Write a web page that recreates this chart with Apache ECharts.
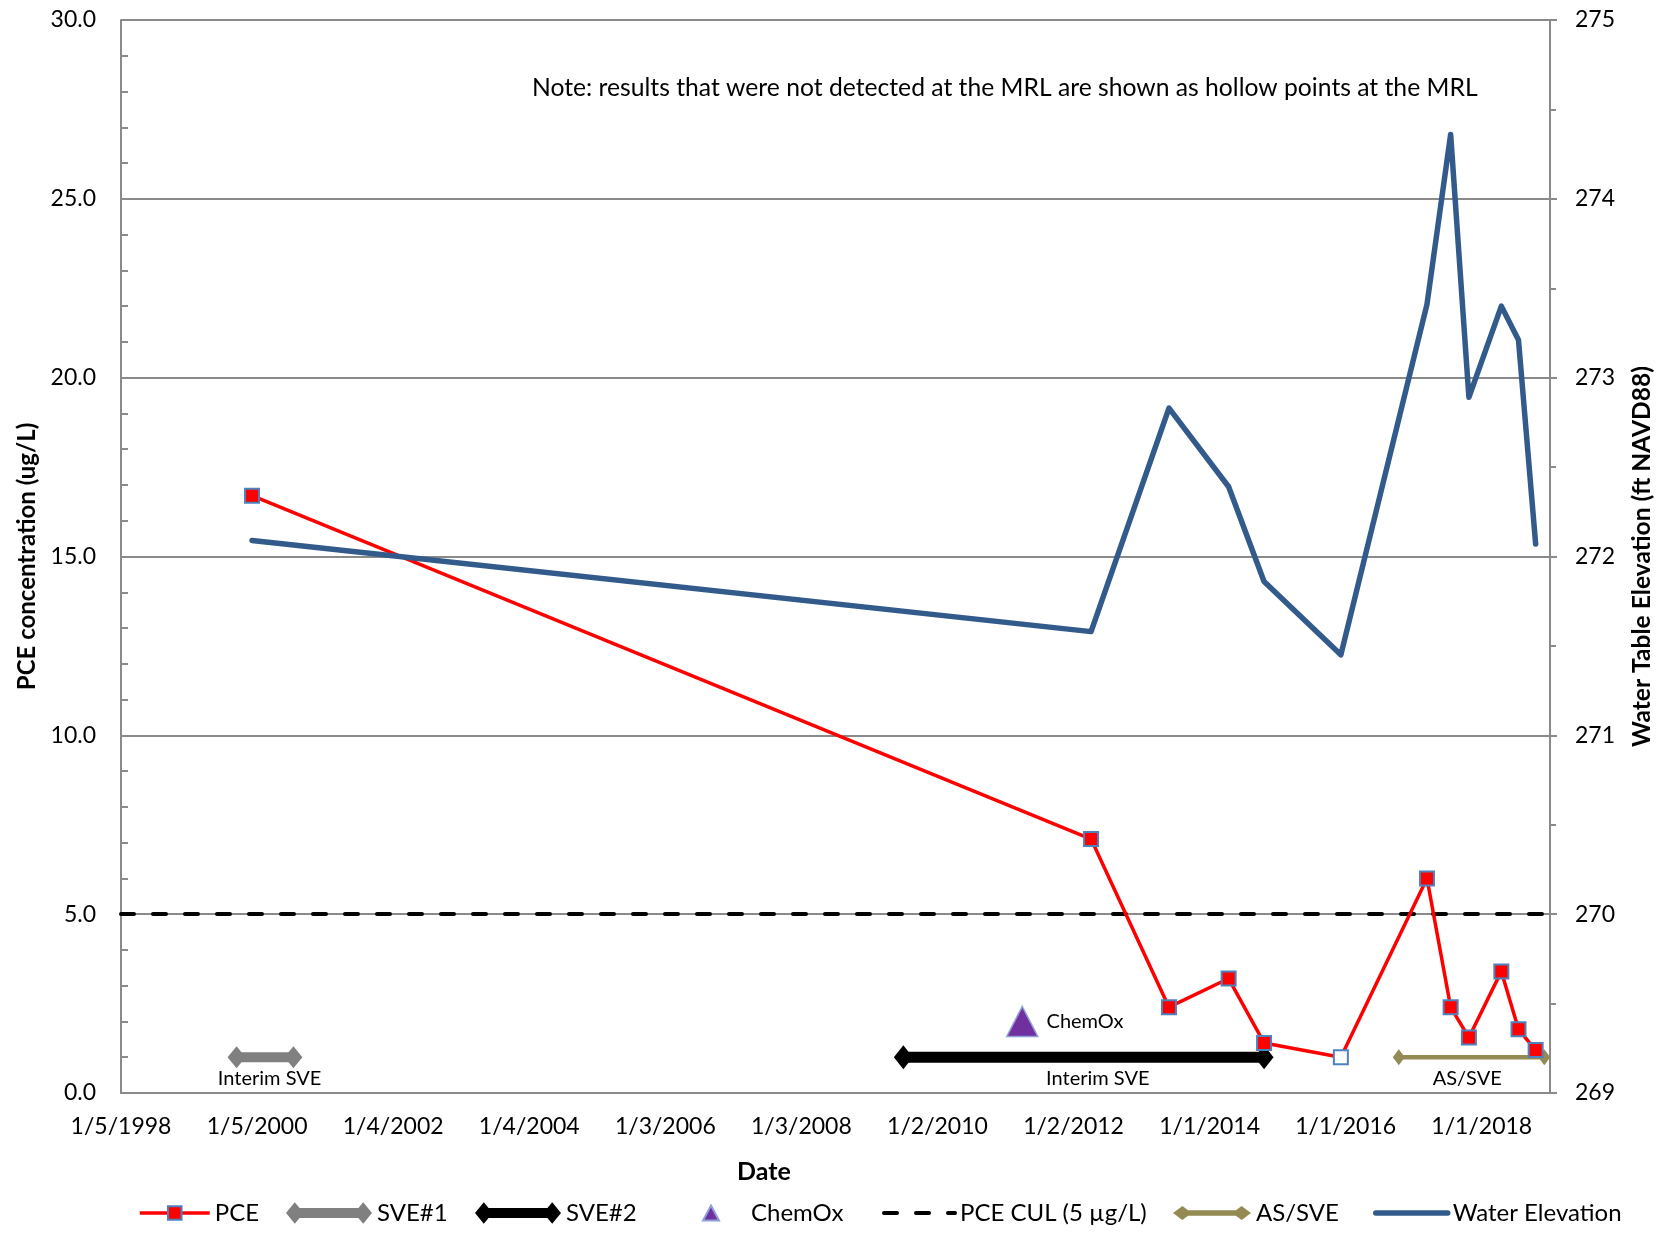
<!DOCTYPE html>
<html><head><meta charset="utf-8">
<script src="https://cdn.jsdelivr.net/npm/echarts@6/dist/echarts.min.js"></script>
<style>html,body{margin:0;padding:0;background:#fff}#c{width:1669px;height:1241px}</style>
</head><body><div id="c"></div>
<script>
// ---------- data ----------
const xTickLabels = ['1/5/1998','1/5/2000','1/4/2002','1/4/2004','1/3/2006','1/3/2008','1/2/2010','1/2/2012','1/1/2014','1/1/2016','1/1/2018'];
const axisStartDate = '1998-01-05';
const axisEndDate = '2019-01-01';
const tickStepDays = 730;

const sampleDates = ['1999-12-09','2012-04-05','2013-05-28','2014-04-13','2014-10-20','2015-12-06','2017-03-12','2017-07-17','2017-10-23','2018-04-15','2018-07-16','2018-10-16'];
const pceValues = [16.7, 7.1, 2.4, 3.2, 1.4, 1.0, 6.0, 2.4, 1.55, 3.4, 1.78, 1.2];
const pceNonDetect = [false, false, false, false, false, true, false, false, false, false, false, false];
const waterElevation = [272.09, 271.58, 272.83, 272.39, 271.86, 271.45, 273.41, 274.36, 272.89, 273.40, 273.21, 272.07];

const sve1Dates = ['1999-09-17', '2000-07-18'];
const sve2Dates = ['2009-07-03', '2014-10-20'];
const asSveDates = ['2016-10-12', '2018-12-01'];
const activityLevel = 1.0;
const chemOxDate = '2011-04-02';
const chemOxValue = 2.0;
const culValue = 5;
const activityLabels = [
  { text: 'Interim SVE', date: '2000-03-12' },
  { text: 'Interim SVE', date: '2012-05-11' },
  { text: 'AS/SVE', date: '2017-10-14' }
];
const noteText = 'Note: results that were not detected at the MRL are shown as hollow points at the MRL';

// ---------- helpers ----------
const FONT = 'Lato';
const t0 = Date.parse(axisStartDate + 'T00:00:00Z');
const day = s => Math.round((Date.parse(s + 'T00:00:00Z') - t0) / 86400000);
const GRID_GRAY = '#8a8a8a';

const ICON_BAR = 'path://M0,11 L9,0 L13.9,6 L74.1,6 L79,0 L88,11 L79,22 L74.1,16 L13.9,16 L9,22 Z';
const ICON_BAR_THIN = 'path://M0,7.5 L10,0 L16,4.5 L67,4.5 L73,0 L83,7.5 L73,15 L67,10.5 L16,10.5 L10,15 Z';

const chart = echarts.init(document.getElementById('c'));

const legendFs = 24;
function leg(name, left, w, h, extra) {
  return Object.assign({
    data: [name], left: left, top: 1213 - Math.max(h, legendFs) / 2, padding: 0,
    itemWidth: w, itemHeight: h, itemGap: 0, selectedMode: false,
    textStyle: { fontFamily: FONT, fontSize: legendFs, color: '#000' }
  }, extra || {});
}

const option = {
  animation: false,
  backgroundColor: '#fff',
  title: {
    text: noteText, left: 532, top: 76, padding: 0,
    textStyle: { fontFamily: FONT, fontSize: 24.7, fontWeight: 'normal', color: '#000' }
  },
  grid: { left: 121, right: 119, top: 20, bottom: 148 },
  xAxis: {
    type: 'value', min: 0, max: day(axisEndDate), interval: tickStepDays,
    name: 'Date', nameLocation: 'middle', nameGap: 66,
    nameTextStyle: { fontFamily: FONT, fontWeight: 'bold', fontSize: 25, color: '#000', padding: [0, 143, 0, 0] },
    axisLine: { show: true, lineStyle: { color: GRID_GRAY, width: 2 } },
    axisTick: { show: false },
    splitLine: { show: false },
    axisLabel: {
      margin: 22, fontFamily: FONT, fontSize: 23, color: '#000',
      formatter: v => {
        const i = v / tickStepDays;
        const r = Math.round(i);
        return Math.abs(i - r) < 1e-6 && r < xTickLabels.length ? xTickLabels[r] : '';
      }
    }
  },
  yAxis: [
    {
      type: 'value', min: 0, max: 30, interval: 5, position: 'left',
      name: 'PCE concentration (ug/L)', nameLocation: 'middle', nameRotate: 90, nameGap: 82,
      nameTextStyle: { fontFamily: FONT, fontWeight: 'bold', fontSize: 24, color: '#000' },
      axisLine: { show: true, lineStyle: { color: GRID_GRAY, width: 2 } },
      axisTick: { show: true, inside: true, length: 7, lineStyle: { color: GRID_GRAY, width: 2 } },
      minorTick: { show: true, splitNumber: 5, length: 7, lineStyle: { color: GRID_GRAY, width: 2 } },
      splitLine: { show: true, lineStyle: { color: GRID_GRAY, width: 2 } },
      axisLabel: { margin: 25, fontFamily: FONT, fontSize: 23, color: '#000', formatter: v => v.toFixed(1) }
    },
    {
      type: 'value', min: 269, max: 275, interval: 1, position: 'right',
      name: 'Water Table Elevation (ft NAVD88)', nameLocation: 'middle', nameRotate: 90, nameGap: 80,
      nameTextStyle: { fontFamily: FONT, fontWeight: 'bold', fontSize: 24.6, color: '#000' },
      axisLine: { show: true, lineStyle: { color: GRID_GRAY, width: 2 } },
      axisTick: { show: true, inside: false, length: 7, lineStyle: { color: GRID_GRAY, width: 2 } },
      minorTick: { show: true, splitNumber: 2, length: 6, lineStyle: { color: GRID_GRAY, width: 2 } },
      splitLine: { show: false },
      axisLabel: { margin: 25, fontFamily: FONT, fontSize: 23, color: '#000' }
    }
  ],
  legend: [
    leg('PCE', 138, 70, 17, { lineStyle: { width: 3.5 } }),
    leg('SVE#1', 286, 86, 22, { data: [{ name: 'SVE#1', icon: ICON_BAR }] }),
    leg('SVE#2', 475, 86, 22, { data: [{ name: 'SVE#2', icon: ICON_BAR }] }),
    leg('ChemOx', 702, 16, 15, { textStyle: { fontFamily: FONT, fontSize: legendFs, color: '#000', padding: [0, 0, 0, 27] } }),
    leg('PCE CUL (5 µg/L)', 882, 71, 14, { lineStyle: { width: 4 }, data: [{ name: 'PCE CUL (5 µg/L)', itemStyle: { opacity: 0 } }] }),
    leg('AS/SVE', 1173, 78, 15, { data: [{ name: 'AS/SVE', icon: ICON_BAR_THIN }] }),
    leg('Water Elevation', 1373, 72, 14, { lineStyle: { width: 5.5 }, data: [{ name: 'Water Elevation', itemStyle: { opacity: 0 } }] })
  ],
  series: [
    {
      name: 'SVE#1', type: 'line', z: 2,
      data: sve1Dates.map(d => [day(d), activityLevel]),
      symbol: 'diamond', symbolSize: [18, 22],
      itemStyle: { color: '#808080' }, lineStyle: { color: '#808080', width: 10 }
    },
    {
      name: 'SVE#2', type: 'line', z: 2,
      data: sve2Dates.map(d => [day(d), activityLevel]),
      symbol: 'diamond', symbolSize: [19, 24],
      itemStyle: { color: '#000000' }, lineStyle: { color: '#000000', width: 11 }
    },
    {
      name: 'AS/SVE', type: 'line', z: 2,
      data: asSveDates.map(d => [day(d), activityLevel]),
      symbol: 'diamond', symbolSize: [12, 16],
      itemStyle: { color: '#948A54' }, lineStyle: { color: '#948A54', width: 4.5 }
    },
    {
      name: 'PCE CUL (5 µg/L)', type: 'line', z: 3, data: [], symbol: 'none',
      itemStyle: { color: '#000' },
      lineStyle: { color: '#000', width: 4, type: [13, 19], cap: 'round' },
      markLine: {
        silent: true, symbol: ['none', 'none'], label: { show: false },
        lineStyle: { color: '#000', width: 4, type: [13, 19], cap: 'round' },
        data: [{ yAxis: culValue }]
      }
    },
    {
      name: 'ChemOx', type: 'scatter', z: 4,
      data: [[day(chemOxDate), chemOxValue]],
      symbol: 'triangle', symbolSize: [31, 30],
      itemStyle: { color: '#7030A0', borderColor: '#8EA0D6', borderWidth: 1.5, opacity: 1 },
      label: { show: true, position: 'right', distance: 8, formatter: 'ChemOx', fontFamily: FONT, fontSize: 20, color: '#000' }
    },
    {
      name: 'PCE', type: 'line', z: 5,
      data: sampleDates.map((d, i) => ({
        value: [day(d), pceValues[i]],
        itemStyle: pceNonDetect[i] ? { color: '#ffffff', borderColor: '#4F81BD' } : undefined
      })),
      symbol: 'rect', symbolSize: 14,
      itemStyle: { color: '#FF0000', borderColor: '#4F81BD', borderWidth: 2 },
      lineStyle: { color: '#FF0000', width: 3.5 }
    },
    {
      name: 'Water Elevation', type: 'line', z: 6, yAxisIndex: 1,
      data: sampleDates.map((d, i) => [day(d), waterElevation[i]]),
      symbol: 'none',
      itemStyle: { color: '#325B8C' },
      lineStyle: { color: '#325B8C', width: 5.5, cap: 'round', join: 'round' }
    }
  ]
};

chart.setOption(option);

const labelGraphics = activityLabels.map(a => {
  const p = chart.convertToPixel({ xAxisIndex: 0, yAxisIndex: 0 }, [day(a.date), activityLevel]);
  return {
    type: 'text', x: p[0], y: p[1] + 21, z: 10,
    style: { text: a.text, fontFamily: FONT, fontSize: 20, fill: '#000', align: 'center', verticalAlign: 'middle' }
  };
});
chart.setOption({ graphic: labelGraphics });
</script>
</body></html>
